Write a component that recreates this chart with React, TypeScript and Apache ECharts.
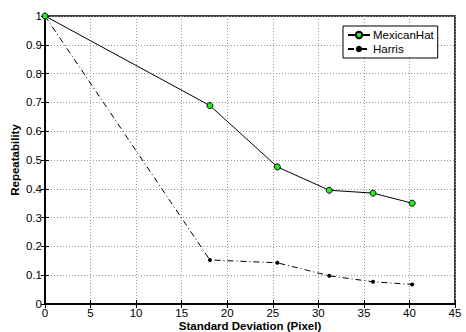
import React, { useEffect, useRef } from "react";
import * as echarts from "echarts";

const xTicks = [0, 5, 10, 15, 20, 25, 30, 35, 40, 45];
const yTicks = [0, 0.1, 0.2, 0.3, 0.4, 0.5, 0.6, 0.7, 0.8, 0.9, 1];
const sigma = [0, 18.1, 25.5, 31.2, 36.0, 40.3];
const mexicanHat = [1, 0.689, 0.476, 0.395, 0.385, 0.35];
const harris = [1, 0.153, 0.143, 0.098, 0.077, 0.068];

const font = "Liberation Sans, Arial, Helvetica, sans-serif";

export default function App() {
  const ref = useRef<HTMLDivElement>(null);
  useEffect(() => {
    if (!ref.current) return;
    const chart = echarts.init(ref.current, undefined, { renderer: "svg" });
    const mk = (vals: number[]) => sigma.map((x, i) => [x, vals[i]]);
    const tickCommon = { show: true, inside: true, length: 4, lineStyle: { color: "#000", width: 1 } };
    chart.setOption({
      animation: false,
      backgroundColor: "#fff",
      textStyle: { fontFamily: font },
      grid: {
        left: 45, right: 11, top: 16, bottom: 28,
        containLabel: false, outerBoundsMode: "none",
        show: true, borderColor: "#000", borderWidth: 1.5, backgroundColor: "#fff",
      },
      legend: {
        orient: "vertical",
        left: 343, top: 26,
        width: 94,
        borderColor: "#000", borderWidth: 1,
        backgroundColor: "#fff",
        padding: [3, 4, 3, 4],
        itemGap: 2,
        itemWidth: 22, itemHeight: 8,
        textStyle: { fontSize: 11.5, color: "#000", fontFamily: font, padding: [0, 0, 0, -2] },
        data: ["MexicanHat", "Harris"],
      },
      xAxis: [
        {
          type: "value", min: 0, max: 45, interval: 5,
          name: "Standard Deviation (Pixel)", nameLocation: "middle", nameGap: 16,
          nameMoveOverlap: false,
          nameTextStyle: { fontWeight: "bold", fontSize: 11.5, color: "#000", fontFamily: font },
          axisLine: { show: true, onZero: false, lineStyle: { color: "#000", width: 1.5 } },
          axisTick: tickCommon,
          axisLabel: { fontSize: 11.5, color: "#000", margin: 3, fontFamily: font },
          splitLine: { show: true, lineStyle: { color: "#999", type: [1, 2], width: 1 } },
        },
        {
          type: "value", min: 0, max: 45, interval: 5, position: "top",
          axisLine: { show: true, lineStyle: { color: "#000", width: 1.5 } },
          axisTick: tickCommon, axisLabel: { show: false }, splitLine: { show: false },
        },
      ],
      yAxis: [
        {
          type: "value", min: 0, max: 1, interval: 0.1,
          name: "Repeatability", nameLocation: "middle", nameGap: 24,
          nameMoveOverlap: false,
          nameTextStyle: { fontWeight: "bold", fontSize: 11.5, color: "#000", fontFamily: font },
          axisLine: { show: true, onZero: false, lineStyle: { color: "#000", width: 1.5 } },
          axisTick: tickCommon,
          axisLabel: {
            fontSize: 11.5, color: "#000", margin: 3, fontFamily: font,
            formatter: (v: number) => String(Math.round(v * 10) / 10),
          },
          splitLine: { show: true, lineStyle: { color: "#999", type: [1, 2], width: 1 } },
        },
        {
          type: "value", min: 0, max: 1, interval: 0.1, position: "right",
          axisLine: { show: true, lineStyle: { color: "#000", width: 1.5 } },
          axisTick: tickCommon, axisLabel: { show: false }, splitLine: { show: false },
        },
      ],
      series: [
        {
          name: "MexicanHat", type: "line", data: mk(mexicanHat),
          symbol: "circle", symbolSize: 6, showAllSymbol: true,
          lineStyle: { color: "#000", width: 1 },
          itemStyle: { color: "#22ee22", borderColor: "#000", borderWidth: 1 },
          z: 3,
        },
        {
          name: "Harris", type: "line", data: mk(harris),
          symbol: "circle", symbolSize: 4, showAllSymbol: true,
          lineStyle: { color: "#000", width: 1, type: [6, 3, 1, 3] },
          itemStyle: { color: "#000", borderColor: "#000", borderWidth: 0 },
          z: 2,
        },
      ],
    });
    return () => chart.dispose();
  }, []);
  return <div ref={ref} style={{ width: 466, height: 332, position: "absolute", left: 0, top: 0 }} />;
}
